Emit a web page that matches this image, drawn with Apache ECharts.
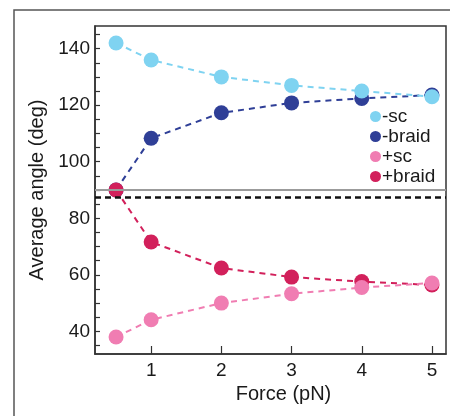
<!DOCTYPE html>
<html>
<head>
<meta charset="utf-8">
<script src="https://cdn.jsdelivr.net/npm/echarts@6/dist/echarts.min.js"></script>
<style>
  html, body { margin: 0; padding: 0; background: #fff; }
  #chart { width: 450px; height: 416px; }
</style>
</head>
<body>
<div id="chart"></div>
<script>
// Force (pN) at which each angle was measured
const force = [0.5, 1, 2, 3, 4, 5];

// Average angle (deg) per condition
const minusSc    = [142, 136, 130, 127, 125, 123];
const minusBraid = [90, 108.3, 117.3, 120.8, 122.4, 123.6];
const plusSc     = [38, 44.1, 50, 53.3, 55.5, 57.1];
const plusBraid  = [90, 71.6, 62.4, 59.2, 57.6, 56.4];

// Reference levels
const refSolid = 90;
const refDashed = 87.5;

// Axis ticks and labels
const xTicks = [1, 2, 3, 4, 5];
const yLabels = [40, 60, 80, 100, 120, 140];
const yTicks = [35, 40, 45, 50, 55, 60, 65, 70, 75, 80, 85, 90, 95, 100, 105, 110,
                115, 120, 125, 130, 135, 140, 145];

const colors = {
  '-sc': '#7fd3f1',
  '-braid': '#2f3f97',
  '+sc': '#f07db2',
  '+braid': '#d2205b'
};

const font = '"Liberation Sans", Arial, sans-serif';
const textColor = '#1a1a1a';
const axisColor = '#333';

function pairs(ys) {
  return force.map((x, i) => [x, ys[i]]);
}

function lineSeries(name, ys, z) {
  return {
    name: name,
    type: 'line',
    data: pairs(ys),
    symbol: 'circle',
    symbolSize: 15,
    z: z,
    itemStyle: { color: colors[name] },
    lineStyle: { color: colors[name], width: 2, type: [6, 5] },
    emphasis: { disabled: true }
  };
}

const chart = echarts.init(document.getElementById('chart'), null, { renderer: 'canvas' });

chart.setOption({
  animation: false,
  backgroundColor: '#fff',
  textStyle: { fontFamily: font },
  graphic: [{
    type: 'rect',
    shape: { x: 14, y: 10, width: 600, height: 600 },
    style: { fill: 'none', stroke: '#555', lineWidth: 1.5 },
    silent: true
  }],
  grid: {
    left: 95, top: 26, right: 4, bottom: 62,
    show: true,
    borderColor: axisColor,
    borderWidth: 1.5,
    backgroundColor: 'transparent'
  },
  legend: {
    orient: 'vertical',
    left: 370,
    top: 107,
    padding: 0,
    itemGap: 1,
    itemWidth: 11,
    itemHeight: 11,
    icon: 'circle',
    data: ['-sc', '-braid', '+sc', '+braid'],
    textStyle: { fontFamily: font, fontSize: 19, lineHeight: 19, color: textColor, padding: [0, 0, 0, -4] }
  },
  xAxis: {
    type: 'value',
    min: 0.2,
    max: 5.2,
    name: 'Force (pN)',
    nameLocation: 'middle',
    nameGap: 29,
    nameTextStyle: { fontFamily: font, fontSize: 20, color: textColor, padding: [0, 0, 0, 26] },
    axisLine: { show: true, onZero: false, lineStyle: { color: axisColor, width: 1.5 } },
    axisTick: { show: true, inside: true, length: 8, customValues: xTicks, lineStyle: { color: axisColor, width: 1.2 } },
    axisLabel: { customValues: xTicks, margin: 7, fontFamily: font, fontSize: 19, color: textColor },
    splitLine: { show: false }
  },
  yAxis: {
    type: 'value',
    min: 32,
    max: 148,
    name: 'Average angle (deg)',
    nameLocation: 'middle',
    nameGap: 46,
    nameTextStyle: { fontFamily: font, fontSize: 20, color: textColor },
    axisLine: { show: true, onZero: false, lineStyle: { color: axisColor, width: 1.5 } },
    axisTick: { show: true, inside: true, length: 5, customValues: yTicks, lineStyle: { color: axisColor, width: 1.2 } },
    axisLabel: { customValues: yLabels, margin: 5, fontFamily: font, fontSize: 19, color: textColor },
    splitLine: { show: false }
  },
  series: [
    {
      name: 'reference',
      type: 'line',
      data: [],
      z: 1,
      silent: true,
      markLine: {
        silent: true,
        symbol: 'none',
        label: { show: false },
        animation: false,
        data: [
          { yAxis: refSolid, lineStyle: { color: '#9b9b9b', width: 2, type: 'solid' } },
          { yAxis: refDashed, lineStyle: { color: '#111', width: 2.5, type: [6, 4] } }
        ]
      }
    },
    lineSeries('-braid', minusBraid, 2),
    lineSeries('-sc', minusSc, 3),
    lineSeries('+braid', plusBraid, 4),
    lineSeries('+sc', plusSc, 5)
  ]
});
</script>
</body>
</html>
